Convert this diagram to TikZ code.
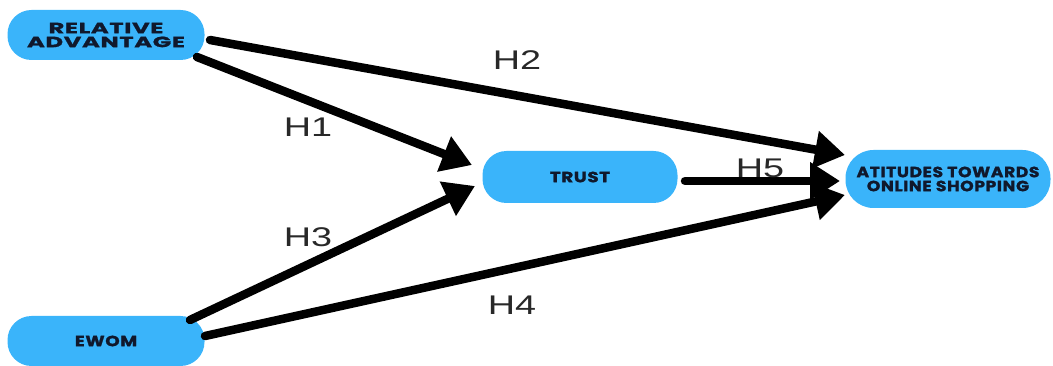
\documentclass[tikz,border=0pt]{standalone}
\usepackage{fontspec}
\setmainfont{Liberation Sans}
\newfontfamily\boxfont[FakeStretch=1.24,LetterSpace=4,FakeBold=1.5]{Poppins}
\newfontfamily\rafont[FakeStretch=1.64,LetterSpace=4,FakeBold=1.5]{Poppins}
\newfontfamily\attfont[FakeStretch=1.16,LetterSpace=4,FakeBold=1.5]{Poppins}
\newfontfamily\labfont[FakeStretch=1.4]{Liberation Sans}
\usetikzlibrary{arrows.meta}
\definecolor{boxblue}{RGB}{58,180,250}
\definecolor{boxtext}{RGB}{16,24,44}
\definecolor{labtext}{RGB}{40,40,40}
\tikzset{
  pill/.style={fill=boxblue, draw=none, rounded corners=24pt, align=center,
    font=\boxfont\bfseries\fontsize{14.8}{14}\selectfont, text=boxtext, inner sep=0pt},
  link/.style={line width=8.5pt, line cap=round, -{Triangle[length=30pt,width=36pt]}},
  hlab/.style={font=\labfont\fontsize{27}{27}\selectfont, text=labtext}
}
\begin{document}
\begin{tikzpicture}[x=1pt,y=-1pt]
\useasboundingbox (0,0) rectangle (1053,366);
\node[pill, minimum width=197pt, minimum height=50pt, font=\rafont\bfseries\fontsize{14.8}{14}\selectfont] (ra) at (106,35) {RELATIVE\\ADVANTAGE};
\node[pill, minimum width=195pt, minimum height=52pt] (trust) at (580,177) {TRUST};
\node[pill, minimum width=205pt, minimum height=58pt, rounded corners=28pt, font=\attfont\bfseries\fontsize{14.8}{14}\selectfont] (att) at (948,179) {ATITUDES TOWARDS\\ONLINE SHOPPING};
\node[pill, minimum width=197pt, minimum height=50pt] (ewom) at (106,341) {EWOM};

\draw[link] ([shift={(91,22)}]ra.center) -- ([shift={(-108,-12)}]trust.center);
\draw[link] ([shift={(104,5)}]ra.center) -- ([shift={(-103,-24)}]att.center);
\draw[link] ([shift={(84,-21)}]ewom.center) -- ([shift={(-105,9)}]trust.center);
\draw[link] ([shift={(99,-5)}]ewom.center) -- ([shift={(-103,16)}]att.center);
\draw[link] ([shift={(105,4)}]trust.center) -- ([shift={(-108,2)}]att.center);

\node[hlab] (h1) at (308,127) {H1};
\node[hlab] (h2) at (517,60) {H2};
\node[hlab] (h3) at (308,237) {H3};
\node[hlab] (h4) at (512,305) {H4};
\node[hlab] (h5) at (760,168) {H5};
\end{tikzpicture}
\end{document}
